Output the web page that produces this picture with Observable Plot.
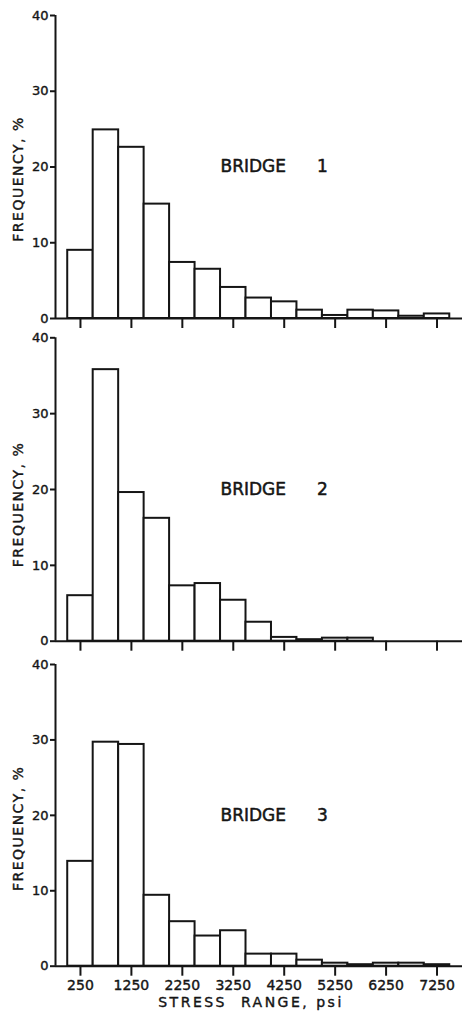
<!DOCTYPE html>
<html><head><meta charset="utf-8">
<script src="https://cdn.jsdelivr.net/npm/d3@7"></script>
<script src="https://cdn.jsdelivr.net/npm/@observablehq/plot@0.6"></script>
<style>
body{margin:0;background:#fff;}
#chart svg{display:block;overflow:visible;}
</style></head><body><div id="chart"></div>
<script>
// Bin lower edges (psi), bin width 500 psi
const binStarts = [0,500,1000,1500,2000,2500,3000,3500,4000,4500,5000,5500,6000,6500,7000];
const binWidth = 500;
// Frequency (%) per bin
const bridge1 = [9.0, 24.9, 22.6, 15.1, 7.4, 6.5, 4.1, 2.7, 2.2, 1.1, 0.4, 1.1, 1.0, 0.3, 0.6];
const bridge2 = [6.0, 35.8, 19.6, 16.2, 7.3, 7.6, 5.4, 2.5, 0.5, 0.2, 0.4, 0.4, 0, 0, 0];
const bridge3 = [13.9, 29.7, 29.4, 9.4, 5.9, 4.0, 4.7, 1.6, 1.6, 0.8, 0.4, 0.2, 0.4, 0.4, 0.2];
const bridgeNumbers = ["1", "2", "3"];
const yTicks = [0, 10, 20, 30, 40];
const yTickLabels = ["0", "10", "20", "30", "40"];
const xTicks = [250, 1250, 2250, 3250, 4250, 5250, 6250, 7250];
const xTickLabels = ["250", "1250", "2250", "3250", "4250", "5250", "6250", "7250"];
const yLabel = "FREQUENCY, %";
const xLabel = "STRESS  RANGE, psi";
const bridgeWord = "BRIDGE";

const xDomain = [-240, 7750];
const ink = "#151515";

function panel(values, num, o) {
  const data = binStarts.map((s, i) => ({x1: s, x2: s + binWidth, y: values[i]})).filter(d => d.y > 0);
  const svg = Plot.plot({
    width: 464, height: o.height, marginTop: o.mt, marginBottom: o.mb, marginLeft: 55, marginRight: 2,
    style: {fontFamily: "'DejaVu Sans', sans-serif", fontSize: "14px", background: "transparent", overflow: "visible", color: ink},
    x: {domain: xDomain, axis: null},
    y: {domain: [0, 40], axis: null},
    marks: [
      Plot.rectY(data, {x1: "x1", x2: "x2", y: "y", fill: "white", stroke: ink, strokeWidth: 2}),
      Plot.ruleY([0], {stroke: ink, strokeWidth: 2}),
      Plot.ruleX([xDomain[0]], {y1: 0, y2: 40, stroke: ink, strokeWidth: 2}),
      Plot.axisY({ticks: yTicks, tickSize: 5, tickPadding: 2, label: null, fontSize: 13, strokeWidth: 2,
        tickFormat: d => yTickLabels[yTicks.indexOf(d)]}),
      Plot.axisX({ticks: xTicks, tickSize: 10, tickPadding: 4, label: null, fontSize: 14, strokeWidth: 2,
        tickFormat: d => o.showX ? xTickLabels[xTicks.indexOf(d)] : ""}),
      Plot.text([yLabel], {frameAnchor: "left", textAnchor: "middle", rotate: -90, dx: -37, dy: o.labelDy, fontSize: 14, stroke: ink, strokeWidth: 0.4, fill: ink}),
      Plot.text([bridgeWord], {x: 3000, y: 20, textAnchor: "start", fontSize: 17, stroke: ink, strokeWidth: 0.5, fill: ink}),
      Plot.text([num], {x: 5000, y: 20, fontSize: 17, stroke: ink, strokeWidth: 0.5, fill: ink}),
      o.showX ? Plot.text([xLabel], {frameAnchor: "bottom", dy: 36, dx: -8, lineAnchor: "middle", fontSize: 14, stroke: ink, strokeWidth: 0.4, fill: ink}) : null
    ]
  });
  // letter spacing for the lettering-style labels
  svg.querySelectorAll("text").forEach(t => {
    const s = t.textContent;
    if (s === yLabel) t.setAttribute("letter-spacing", "1.5");
    else if (s === xLabel) t.setAttribute("letter-spacing", "2.5");
  });
  svg.querySelectorAll("[aria-label='y-axis tick label'] text, [aria-label='x-axis tick label'] text").forEach(t => {
    t.setAttribute("stroke", ink); t.setAttribute("stroke-width", "0.4");
  });
  return svg;
}

const root = document.getElementById("chart");
root.append(panel(bridge1, bridgeNumbers[0], {height: 330, mt: 15, mb: 12, showX: false, labelDy: 12}));
root.append(panel(bridge2, bridgeNumbers[1], {height: 322, mt: 7.3, mb: 11.3, showX: false, labelDy: 15}));
root.append(panel(bridge3, bridgeNumbers[2], {height: 361, mt: 12, mb: 47.3, showX: true, labelDy: 13}));
</script></body></html>
